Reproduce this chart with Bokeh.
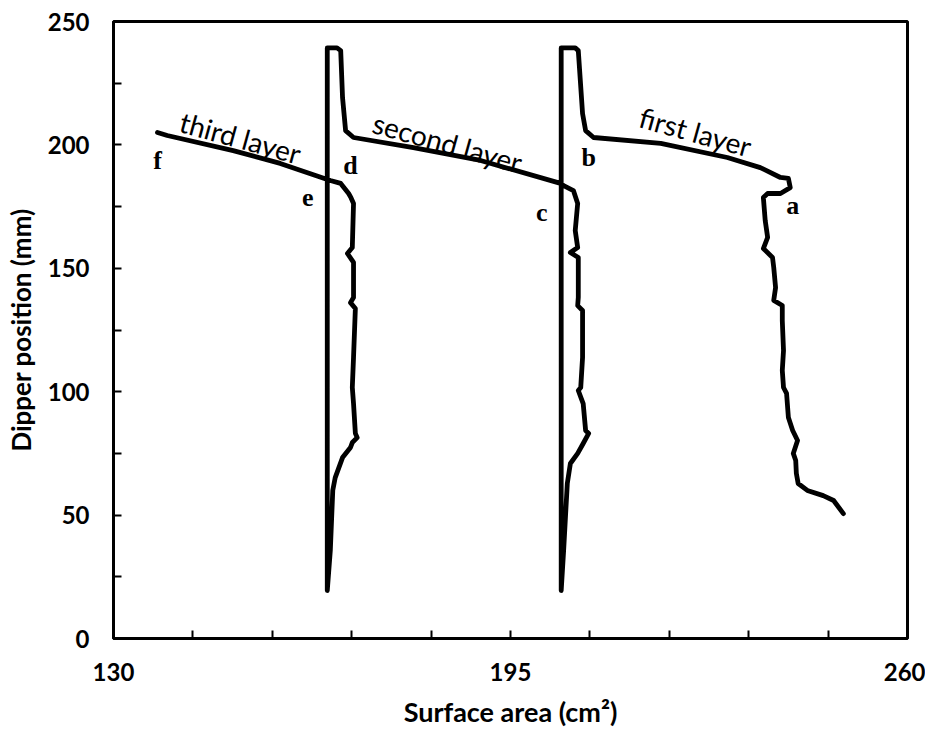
from bokeh.plotting import figure
from bokeh.models import FixedTicker, ColumnDataSource
from bokeh.core.properties import value
from bokeh.embed import file_html
from bokeh.resources import INLINE

# ---- data ----
# first layer trace (from bottom right, up, left along the layer, up, down the wall)
area_first = [249.5, 247.9, 246.2, 243.6, 242.1, 241.8, 241.7, 241.3, 242.0, 241.2,
              240.5, 240.2, 239.7, 239.5, 239.7, 239.5, 239.5, 238.1, 238.4, 238.1,
              237.9, 236.4, 237.1, 236.7, 236.4, 237.1, 239.2, 240.8, 240.5, 239.2,
              235.9, 230.5, 219.6, 208.6, 207.3, 206.8, 206.1, 205.6, 203.3, 203.3]
pos_first = [50.6, 55.9, 57.9, 60.0, 62.8, 66.9, 72.1, 75.0, 80.2, 84.3,
             89.5, 99.3, 101.7, 108.6, 116.7, 128.8, 134.9, 137.0, 142.2, 150.3,
             154.4, 158.0, 162.5, 169.4, 178.7, 180.3, 180.3, 182.7, 186.4, 186.8,
             190.8, 194.9, 200.6, 203.0, 205.8, 212.7, 238.2, 239.3, 239.3, 19.4]

# second layer trace
area_second = [203.3, 203.7, 204.3, 204.8, 206.0, 206.9, 207.8, 207.3, 206.9, 206.1,
               206.5, 206.8, 206.8, 206.0, 206.1, 206.1, 204.8, 206.0, 205.6, 206.0,
               205.3, 203.7, 203.2, 190.1, 179.1, 169.3, 168.0, 167.5, 167.2, 166.6,
               165.0, 165.0]
pos_second = [19.4, 35.7, 62.8, 70.9, 75.0, 79.0, 83.1, 84.3, 95.2, 100.5,
              101.7, 113.9, 132.9, 134.9, 138.2, 154.4, 156.4, 158.4, 165.3, 176.3,
              181.5, 183.5, 184.4, 193.7, 198.9, 203.0, 205.8, 219.2, 238.2, 239.3,
              239.3, 19.4]

# third layer trace
area_third = [165.0, 165.5, 165.9, 166.3, 167.5, 168.8, 169.1, 169.9, 169.6, 169.3,
              169.1, 169.3, 169.6, 168.8, 169.3, 169.3, 168.3, 169.1, 169.3, 168.9,
              168.5, 167.2, 165.5, 157.3, 149.6, 138.8, 137.2]
pos_third = [19.4, 35.7, 60.0, 65.2, 73.3, 77.4, 79.4, 81.4, 83.1, 95.2,
             101.7, 113.9, 133.7, 136.1, 138.2, 152.4, 156.0, 158.4, 176.3, 178.5,
             180.3, 184.4, 185.6, 192.5, 197.7, 203.8, 205.0]

layer_names = ["first layer", "second layer", "third layer"]
layer_x = [225.3, 184.7, 150.8]
layer_y = [205.4, 201.0, 203.0]

point_letters = ["a", "b", "c", "d", "e", "f"]
point_x = [241.2, 207.8, 200.1, 168.8, 161.8, 137.2]
point_y = [175.4, 194.9, 172.6, 191.6, 178.7, 193.7]

x_ticks = [130, 143, 156, 169, 182, 195, 208, 221, 234, 247, 260]
x_labels = [130, 195, 260]
y_ticks = [0, 25, 50, 75, 100, 125, 150, 175, 200, 225, 250]
y_labels = [0, 50, 100, 150, 200, 250]

# ---- figure ----
p = figure(width=925, height=730, x_range=(130, 260), y_range=(0, 250),
           output_backend="svg", toolbar_location=None,
           min_border_left=113, min_border_right=18, min_border_top=21,
           min_border_bottom=92)
p.xgrid.visible = False
p.ygrid.visible = False
p.outline_line_color = "black"
p.outline_line_width = 3
p.background_fill_color = "white"
p.border_fill_color = "white"

trace_x = area_first + area_second + area_third
trace_y = pos_first + pos_second + pos_third
p.line(trace_x, trace_y, line_color="black", line_width=4.8,
       line_join="round", line_cap="round")

src_layers = ColumnDataSource(dict(x=layer_x, y=layer_y, t=layer_names))
p.text(x="x", y="y", text="t", source=src_layers, angle=-15.5, angle_units="deg",
       text_font=value("Lato"), text_font_size="28px", text_color="black",
       text_align="center", text_baseline="middle")

src_pts = ColumnDataSource(dict(x=point_x, y=point_y, t=point_letters))
p.text(x="x", y="y", text="t", source=src_pts,
       text_font=value("Liberation Serif"), text_font_size="26px",
       text_font_style="bold", text_color="black",
       text_align="center", text_baseline="middle")

# axes
for ax in (p.xaxis[0], p.yaxis[0]):
    ax.axis_line_color = "black"
    ax.axis_line_width = 3
    ax.major_tick_in = 8
    ax.major_tick_out = 0
    ax.major_tick_line_width = 2
    ax.minor_tick_line_color = None
    ax.major_label_text_font = "Lato"
    ax.major_label_text_font_style = "bold"
    ax.major_label_text_font_size = "24px"
    ax.major_label_text_color = "black"
    ax.axis_label_text_font = "Lato"
    ax.axis_label_text_font_style = "bold"
    ax.axis_label_text_font_size = "26px"
    ax.axis_label_text_color = "black"

p.xaxis.ticker = FixedTicker(ticks=x_ticks)
p.xaxis.major_label_overrides = {t: (str(t) if t in x_labels else "") for t in x_ticks}
p.xaxis.major_label_standoff = 24
p.xaxis.axis_label = "Surface area (cm²)"
p.xaxis.axis_label_text_font_size = "27px"
p.xaxis.axis_label_standoff = 11

p.yaxis.ticker = FixedTicker(ticks=y_ticks)
p.yaxis.major_label_overrides = {t: (str(t) if t in y_labels else "") for t in y_ticks}
p.yaxis.major_label_standoff = 24
p.yaxis.axis_label = "Dipper position (mm)"
p.yaxis.axis_label_standoff = 8

open("out.html", "w").write(file_html(p, INLINE))
